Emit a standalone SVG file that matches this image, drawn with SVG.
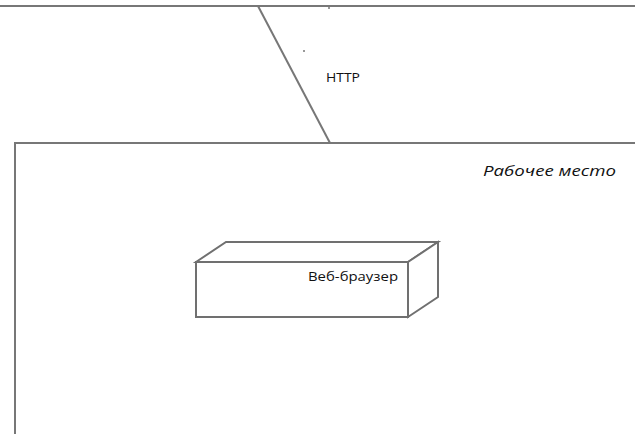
<svg xmlns="http://www.w3.org/2000/svg" width="635" height="434" viewBox="0 0 635 434">
<style>
.ln{stroke:#777;stroke-width:2;fill:none}
.bx{stroke:#707070;stroke-width:2;fill:#fff;stroke-linejoin:miter}
.t{font-family:"Open Sans","DejaVu Sans",sans-serif;fill:#111}
</style>
<rect width="635" height="434" fill="#fff"/>
<g id="connectors">
<line class="ln" x1="0" y1="6" x2="635" y2="6"/>
<line class="ln" x1="258" y1="6" x2="330" y2="143"/>
<circle cx="329" cy="8" r="1" fill="#777"/>
<circle cx="304" cy="51" r="1" fill="#777"/>
<text class="t" x="326" y="82" font-size="12" textLength="34" lengthAdjust="spacingAndGlyphs">HTTP</text>
</g>
<g id="workstation">
<polyline class="ln" points="15,434 15,143 635,143"/>
<text class="t" x="483" y="176" font-size="15" font-style="italic" textLength="133" lengthAdjust="spacingAndGlyphs">Рабочее место</text>
</g>
<g id="browser">
<polygon class="bx" points="196,262 226,242 438,242 408,262"/>
<polygon class="bx" points="408,262 438,242 438,297 408,317"/>
<rect class="bx" x="196" y="262" width="212" height="55"/>
<text class="t" x="308" y="281" font-size="13" textLength="90" lengthAdjust="spacingAndGlyphs">Веб-браузер</text>
</g>
</svg>
